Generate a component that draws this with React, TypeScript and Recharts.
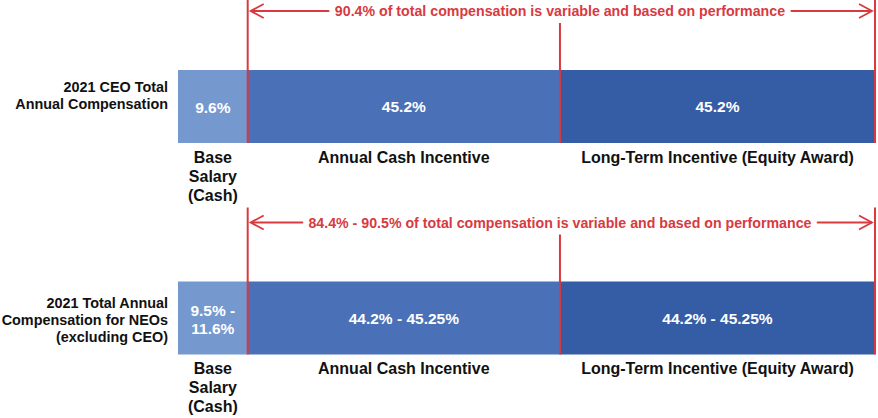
import React from "react"
import { BarChart, Bar, XAxis, YAxis } from "recharts"

// rows of the chart
const rows = ["CEO", "NEOs"]
const rowLabels = [
  ["2021 CEO Total", "Annual Compensation"],
  ["2021 Total Annual", "Compensation for NEOs", "(excluding CEO)"],
]

// segment widths (% of total pay, as drawn)
const baseSalary = [10.0, 10.0]
const annualCash = [44.8, 44.8]
const longTerm = [45.2, 45.2]

// texts printed inside the segments
const baseText = [["9.6%"], ["9.5% -", "11.6%"]]
const annualText = ["45.2%", "44.2% - 45.25%"]
const longTermText = ["45.2%", "44.2% - 45.25%"]

// segment names under each bar
const segmentNames = [["Base", "Salary", "(Cash)"], ["Annual Cash Incentive"], ["Long-Term Incentive (Equity Award)"]]

// red annotation above each bar
const notes = [
  "90.4% of total compensation is variable and based on performance",
  "84.4% - 90.5% of total compensation is variable and based on performance",
]

const data = rows.map((row, i) => ({
  row,
  base: baseSalary[i],
  annual: annualCash[i],
  lti: longTerm[i],
}))

const FONT = "'Liberation Sans', Arial, sans-serif"
const COLORS = { base: "#7598CF", annual: "#4A71B7", lti: "#355DA5", red: "#D83A3F" }
const labelShift = [-11, 2]

function Lines({ lines, x, cy, step, size, fill, anchor = "middle" }: any) {
  const n = lines.length
  return (
    <text x={x} fontFamily={FONT} fontWeight="bold" fontSize={size} fill={fill} textAnchor={anchor}>
      {lines.map((l: string, i: number) => (
        <tspan key={i} x={x} y={cy + (i - (n - 1) / 2) * step} dominantBaseline="central">
          {l}
        </tspan>
      ))}
    </text>
  )
}

function Below({ lines, x, y }: any) {
  return (
    <text fontFamily={FONT} fontWeight="bold" fontSize={16} fill="#111" textAnchor="middle">
      {lines.map((l: string, i: number) => (
        <tspan key={i} x={x} y={y + 14 + i * 19} dominantBaseline="central">
          {l}
        </tspan>
      ))}
    </text>
  )
}

function Arrowhead({ tip, y, dir }: { tip: number; y: number; dir: number }) {
  return (
    <polyline
      points={`${tip + dir * 13},${y - 7} ${tip},${y} ${tip + dir * 13},${y + 7}`}
      fill="none"
      stroke={COLORS.red}
      strokeWidth={1.8}
    />
  )
}

function BaseShape(p: any) {
  const { x, y, width, height, index } = p
  const cy = y + height / 2
  return (
    <g>
      <rect x={x} y={y} width={width} height={height} fill={COLORS.base} />
      <Lines lines={baseText[index]} x={x + width / 2} cy={cy + 1} step={18} size={15.5} fill="#fff" />
      <Lines lines={rowLabels[index]} x={x - 10} cy={cy + labelShift[index]} step={17} size={14.4} fill="#111" anchor="end" />
      <Below lines={segmentNames[0]} x={x + width / 2} y={y + height} />
    </g>
  )
}

function AnnualShape(p: any) {
  const { x, y, width, height, index } = p
  const ay = y - 59
  return (
    <g>
      <rect x={x} y={y} width={width} height={height} fill={COLORS.annual} />
      <Lines lines={[annualText[index]]} x={x + width / 2} cy={y + height / 2} step={18} size={15.5} fill="#fff" />
      <Below lines={segmentNames[1]} x={x + width / 2} y={y + height} />
      <line x1={x} x2={x} y1={y - 74} y2={y + height} stroke={COLORS.red} strokeWidth={2} />
      <line x1={x + 3} x2={x + width} y1={ay} y2={ay} stroke={COLORS.red} strokeWidth={1.8} />
      <Arrowhead tip={x + 3} y={ay} dir={1} />
    </g>
  )
}

function LongTermShape(p: any) {
  const { x, y, width, height, index } = p
  const ay = y - 59
  const right = x + width
  return (
    <g>
      <rect x={x} y={y} width={width} height={height} fill={COLORS.lti} />
      <Lines lines={[longTermText[index]]} x={x + width / 2} cy={y + height / 2} step={18} size={15.5} fill="#fff" />
      <Below lines={segmentNames[2]} x={x + width / 2} y={y + height} />
      <line x1={x} x2={x} y1={y - 47} y2={y + height} stroke={COLORS.red} strokeWidth={2} />
      <line x1={right} x2={right} y1={y - 74} y2={y + height} stroke={COLORS.red} strokeWidth={2} />
      <line x1={x} x2={right - 3} y1={ay} y2={ay} stroke={COLORS.red} strokeWidth={1.8} />
      <Arrowhead tip={right - 3} y={ay} dir={-1} />
      <text
        x={x}
        y={ay}
        dominantBaseline="central"
        textAnchor="middle"
        fontFamily={FONT}
        fontWeight="bold"
        fontSize={14.2}
        fill={COLORS.red}
        stroke="#fff"
        strokeWidth={12}
        strokeLinejoin="round"
        paintOrder="stroke"
      >
        {notes[index]}
      </text>
    </g>
  )
}

export default function App() {
  return (
    <div style={{ width: 878, height: 418, background: "#fff" }}>
      <style>{"body{margin:0}"}</style>
      <BarChart
        width={878}
        height={418}
        data={data}
        layout="vertical"
        margin={{ top: 1, right: 3, bottom: -6, left: 178 }}
      >
        <XAxis type="number" domain={[0, 100]} hide />
        <YAxis type="category" dataKey="row" hide />
        <Bar dataKey="base" stackId="a" barSize={73} shape={BaseShape} isAnimationActive={false} />
        <Bar dataKey="annual" stackId="a" barSize={73} shape={AnnualShape} isAnimationActive={false} />
        <Bar dataKey="lti" stackId="a" barSize={73} shape={LongTermShape} isAnimationActive={false} />
      </BarChart>
    </div>
  )
}
